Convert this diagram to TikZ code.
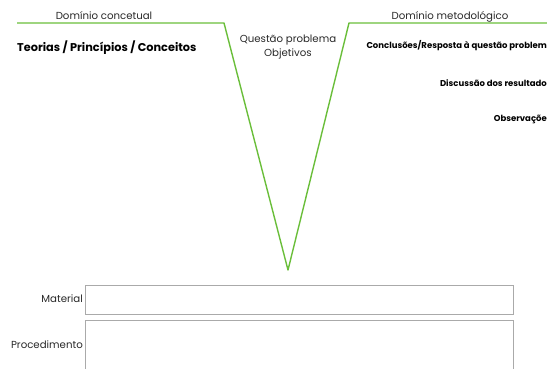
\documentclass[tikz,border=0pt]{standalone}
\usepackage{fontspec}
\setmainfont{Poppins}
\definecolor{vgreen}{RGB}{106,190,58}
\definecolor{boxgray}{RGB}{170,170,170}
\definecolor{txt}{RGB}{40,40,40}
\begin{document}
\begin{tikzpicture}[x=1pt,y=-1pt,
  lbl/.style={inner sep=0pt,font=\fontsize{10.2}{12}\selectfont,text=txt},
  bld/.style={inner sep=0pt,font=\fontsize{11.3}{13}\selectfont\bfseries,text=black},
  sbld/.style={inner sep=0pt,font=\fontsize{8.5}{10}\selectfont\bfseries,text=black},
  fbox/.style={draw=boxgray,line width=0.8pt}]
\useasboundingbox (0,0) rectangle (547,369);
\clip (0,0) rectangle (547,369);
\coordinate (l0) at (17,23);
\coordinate (l1) at (224,23);
\coordinate (v) at (288,270);
\coordinate (r1) at (349,23);
\coordinate (r0) at (550,23);
\draw[vgreen,line width=1.4pt,line join=round] (l0) -- (l1) -- (v) -- (r1) -- (r0);
\node[lbl] (dc) at (104,16) {Domínio concetual};
\node[lbl] (dm) at (450,17) {Domínio metodológico};
\node[bld,anchor=west] (tp) at (17,48) {Teorias / Princípios / Conceitos};
\node[lbl,align=center,font=\fontsize{10.2}{14}\selectfont] (qp) at (288,47) {Questão problema\\Objetivos};
\node[sbld,anchor=east] (cr) at (547,46) {Conclusões/Resposta à questão problem};
\node[sbld,anchor=east] (dr) at (547,83) {Discussão dos resultado};
\node[sbld,anchor=east] (ob) at (547,119) {Observaçõe};
\draw[fbox] (85,285) rectangle (513,314);
\draw[fbox] (85,320) rectangle (513,380);
\node[lbl,anchor=east] (mat) at (83,299) {Material};
\node[lbl,anchor=east] (proc) at (83,345) {Procedimento};
\end{tikzpicture}
\end{document}
